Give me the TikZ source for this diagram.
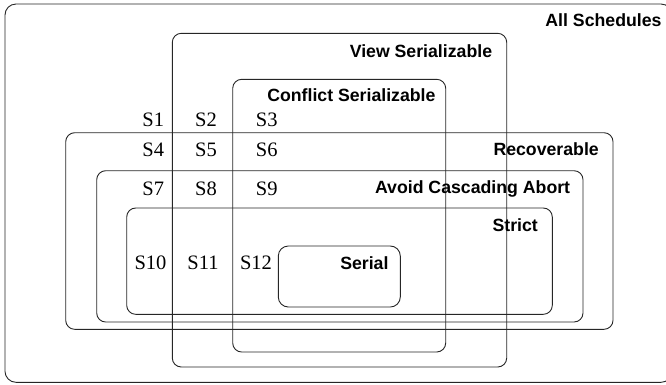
\documentclass[tikz,border=0pt]{standalone}
\usepackage{fontspec}
\setmainfont{Liberation Serif}
\newfontfamily\labfont{Liberation Sans}
\tikzset{
  region/.style={draw=black!85, line width=0.9pt, rounded corners=9pt},
  setlabel/.style={font=\labfont\bfseries\fontsize{17.7}{20}\selectfont, inner sep=0pt, anchor=base east},
  sched/.style={font=\fontsize{20.5}{23}\selectfont, inner sep=0pt, anchor=base}
}
\begin{document}
\begin{tikzpicture}[x=1pt,y=-1pt]
\useasboundingbox (0,0) rectangle (666,384);
\clip (0,0) rectangle (666,384);
% regions
\draw[region, rounded corners=11pt] (5,4) rectangle (672,382.3);
\draw[region] (172.3,33.3) rectangle (506.7,367);
\draw[region] (232.7,79.3) rectangle (445.7,352);
\draw[region] (65.7,132.7) rectangle (613,329.3);
\draw[region] (96.7,170.7) rectangle (583,322);
\draw[region] (126.7,208) rectangle (552.3,314.3);
\draw[region, rounded corners=10pt] (278.3,246) rectangle (400.3,307);
% set labels
\node[setlabel] (all) at (661.7,26) {All Schedules};
\node[setlabel] (view) at (492.3,57.3) {View Serializable};
\node[setlabel] (conf) at (435.7,101.7) {Conflict Serializable};
\node[setlabel] (rec) at (599,155.7) {Recoverable};
\node[setlabel] (aca) at (570.3,193.5) {Avoid Cascading Abort};
\node[setlabel] (strict) at (538,231) {Strict};
\node[setlabel] (serial) at (388.7,269.3) {Serial};
% schedules
\node[sched] (s1) at (153.3,126.7) {S1};
\node[sched] (s2) at (206,126.7) {S2};
\node[sched] (s3) at (266.7,126.7) {S3};
\node[sched] (s4) at (153.3,156.7) {S4};
\node[sched] (s5) at (206,156.7) {S5};
\node[sched] (s6) at (266.7,156.7) {S6};
\node[sched] (s7) at (153.3,195) {S7};
\node[sched] (s8) at (206,195) {S8};
\node[sched] (s9) at (266.7,195) {S9};
\node[sched] (s10) at (150.5,269.7) {S10};
\node[sched] (s11) at (203,269.7) {S11};
\node[sched] (s12) at (256,269.7) {S12};
\end{tikzpicture}
\end{document}
